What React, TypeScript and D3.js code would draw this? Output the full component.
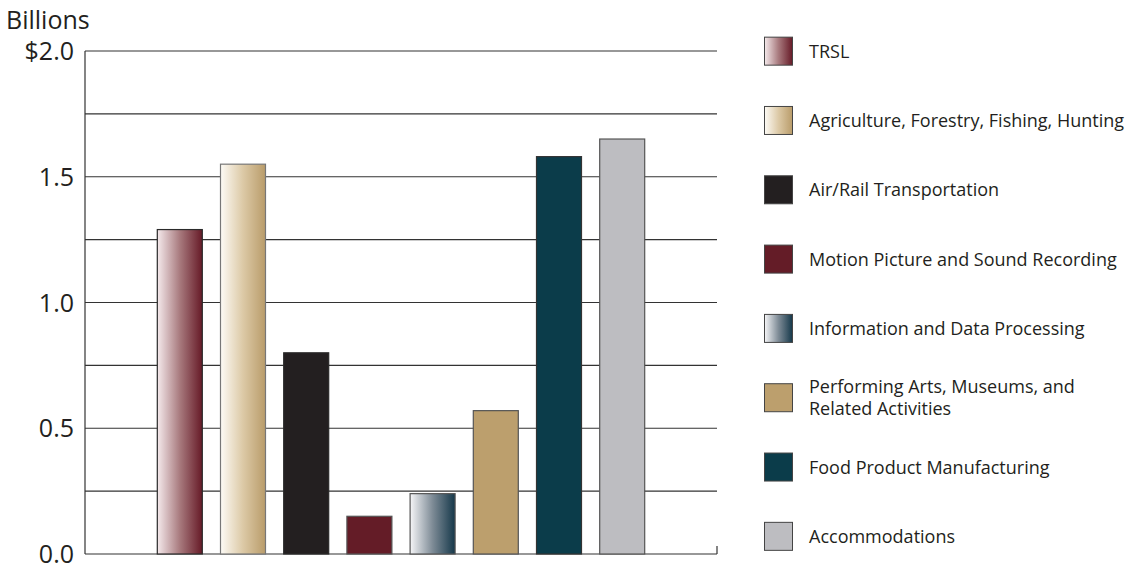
import React from 'react';
import * as d3 from 'd3';

// chart data (values in $ billions)
const categories = [
  'TRSL',
  'Agriculture, Forestry, Fishing, Hunting',
  'Air/Rail Transportation',
  'Motion Picture and Sound Recording',
  'Information and Data Processing',
  'Performing Arts, Museums, and Related Activities',
  'Food Product Manufacturing',
  'Accommodations',
];
const values = [1.29, 1.55, 0.8, 0.15, 0.24, 0.57, 1.58, 1.65];
const yTicks = [0, 0.25, 0.5, 0.75, 1.0, 1.25, 1.5, 1.75, 2.0];
const yLabels = ['0.0', '', '0.5', '', '1.0', '', '1.5', '', '$2.0'];
const legendLines = [
  ['TRSL'],
  ['Agriculture, Forestry, Fishing, Hunting'],
  ['Air/Rail Transportation'],
  ['Motion Picture and Sound Recording'],
  ['Information and Data Processing'],
  ['Performing Arts, Museums, and', 'Related Activities'],
  ['Food Product Manufacturing'],
  ['Accommodations'],
];

// fills: gradient ids or flat colors
const fills = ['url(#g-trsl)', 'url(#g-agri)', '#231f20', '#641c27', 'url(#g-info)', '#bc9f6d', '#0b3c4a', '#bdbdc1'];
const strokes = ['#2a2a2a', '#777', '#2a2a2a', '#555', '#555', '#555', '#333', '#555'];

const FONT = '"Open Sans", "Noto Sans", sans-serif';
const TEXT = '#231f20';

const App: React.FC = () => {
  const width = 1137;
  const height = 564;
  const left = 85;
  const right = 717;
  const top = 51;
  const bottom = 554;

  const y = d3.scaleLinear().domain([0, 2]).range([bottom, top]);
  const slot = (right - left) / 10;
  const x = d3
    .scaleBand<string>()
    .domain(categories)
    .range([left + slot, right - slot])
    .paddingInner(0.288)
    .paddingOuter(0.144);

  const legend = d3.scaleBand<string>().domain(categories).range([16.5, 571]);

  return (
    <svg width={width} height={height} style={{ position: 'absolute', left: 0, top: 0 }}>
      <defs>
        <linearGradient id="g-trsl" x1="0" x2="1" y1="0" y2="0">
          <stop offset="0%" stopColor="#f5eaec" />
          <stop offset="50%" stopColor="#a87a7e" />
          <stop offset="100%" stopColor="#661a27" />
        </linearGradient>
        <linearGradient id="g-agri" x1="0" x2="1" y1="0" y2="0">
          <stop offset="0%" stopColor="#fdfbf6" />
          <stop offset="50%" stopColor="#dcc9a6" />
          <stop offset="100%" stopColor="#b99c6a" />
        </linearGradient>
        <linearGradient id="g-info" x1="0" x2="1" y1="0" y2="0">
          <stop offset="0%" stopColor="#f6f6f8" />
          <stop offset="50%" stopColor="#7e8b96" />
          <stop offset="100%" stopColor="#15384a" />
        </linearGradient>
      </defs>

      <text x={6} y={29} fontFamily={FONT} fontSize={25} fill={TEXT}>Billions</text>

      {/* gridlines */}
      {yTicks.map((t, i) => (
        <g key={i}>
          <line x1={left} x2={right} y1={y(t)} y2={y(t)} stroke="#333" strokeWidth={1.2} />
          {yLabels[i] && (
            <text x={74} y={y(t)} dy="0.36em" textAnchor="end" fontFamily={FONT} fontSize={25} fill={TEXT}>
              {yLabels[i]}
            </text>
          )}
        </g>
      ))}
      <line x1={left} x2={left} y1={top} y2={bottom} stroke="#333" strokeWidth={1.2} />
      <line x1={right} x2={right} y1={bottom - 8} y2={bottom} stroke="#333" strokeWidth={1.2} />

      {/* bars */}
      {categories.map((c, i) => (
        <rect
          key={c}
          x={x(c)}
          y={y(values[i])}
          width={x.bandwidth()}
          height={y(0) - y(values[i])}
          fill={fills[i]}
          stroke={strokes[i]}
          strokeWidth={1.2}
        />
      ))}

      {/* legend */}
      {categories.map((c, i) => {
        const cy = (legend(c) as number) + legend.bandwidth() / 2;
        const lines = legendLines[i];
        return (
          <g key={c}>
            <rect x={764.5} y={cy - 14} width={28} height={28} fill={fills[i]} stroke="#444" strokeWidth={1} />
            {lines.map((l, j) => (
              <text
                key={j}
                x={809}
                y={cy + (j - (lines.length - 1) / 2) * 22.5}
                dy="0.36em"
                fontFamily={FONT}
                fontSize={18}
                fill={TEXT}
              >
                {l}
              </text>
            ))}
          </g>
        );
      })}
    </svg>
  );
};

export default App;
